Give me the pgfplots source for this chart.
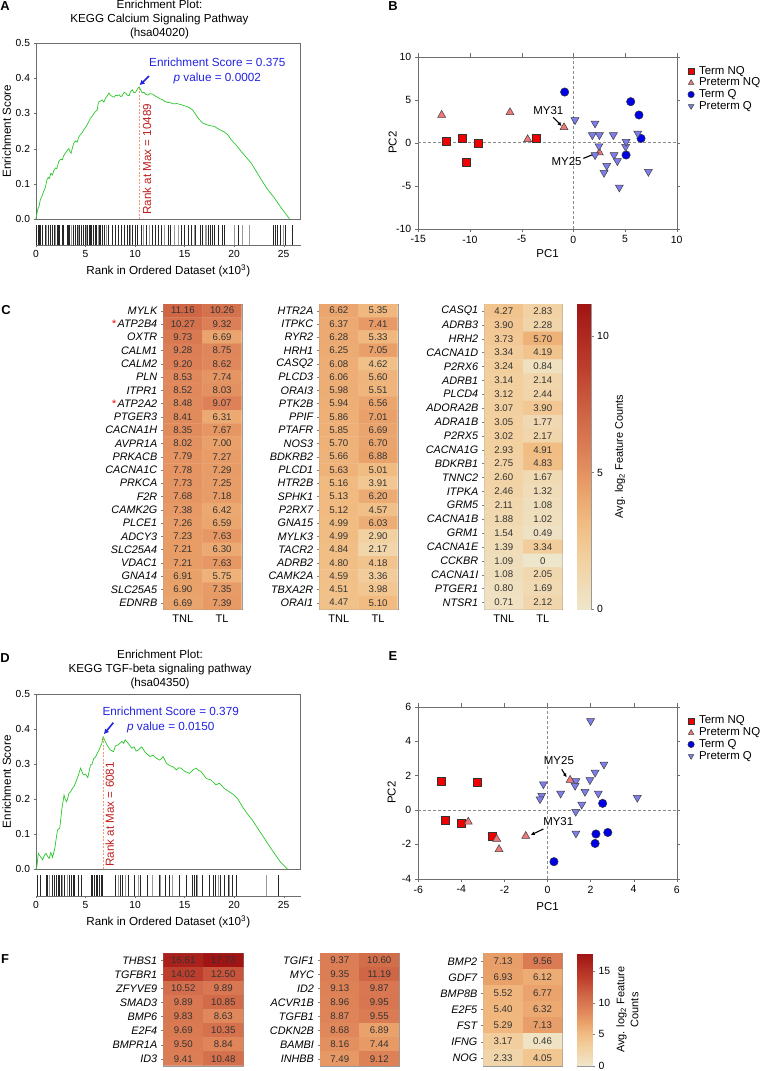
\documentclass[border=0pt]{standalone}
\usepackage{fontspec}
\setmainfont{Liberation Sans}
\usepackage{pgfplots}
\pgfplotsset{compat=1.18}
\usepackage{pgfplotstable}
\usetikzlibrary{arrows.meta}

\newcommand\fs[1]{\fontsize{#1}{#1}\selectfont}

\definecolor{esgreen}{RGB}{40,200,40}
\definecolor{esblue}{RGB}{35,35,225}
\definecolor{rankred}{RGB}{190,30,30}
\definecolor{maxline}{RGB}{245,150,110}
\definecolor{termnq}{RGB}{240,0,0}
\definecolor{pretermnq}{RGB}{240,120,120}
\definecolor{termq}{RGB}{0,0,230}
\definecolor{pretermq}{RGB}{125,125,235}
\definecolor{axgray}{RGB}{110,110,110}

\pgfplotsset{
  /pgf/number format/assume math mode=true,
  colormap={heat}{rgb255(0pt)=(238,230,203) rgb255(30pt)=(242,208,160) rgb255(50pt)=(241,188,130)
    rgb255(70pt)=(233,160,105) rgb255(90pt)=(222,130,88) rgb255(110pt)=(208,105,72)
    rgb255(140pt)=(190,62,45) rgb255(177pt)=(160,20,20)},
  esmain/.style={scale only axis, width=264.5bp, height=#1, xmin=0, xmax=26.7, ymin=0, ymax=0.5,
    xtick=\empty, ytick={0,0.1,0.2,0.3,0.4,0.5}, ytick pos=left, tick align=outside,
    major tick length=2.5bp, axis line style={axgray}, tick style={axgray},
    yticklabel style={font=\fs{10.3}, /pgf/number format/.cd, fixed, fixed zerofill, precision=1},
    ylabel={Enrichment Score}, ylabel style={font=\fs{11.7}, at={(axis description cs:-0.111,0.5)}, anchor=center},
    clip=false},
  bcaxis/.style={scale only axis, width=264.5bp, height=#1, xmin=0, xmax=26.7, ymin=0, ymax=1,
    axis x line*=bottom, axis y line=none, xtick={0,5,10,15,20,25}, tick align=outside,
    major tick length=2bp, axis line style={axgray}, tick style={axgray}, ytick=\empty,
    xticklabel style={font=\fs{10.3}},
    xlabel={Rank in Ordered Dataset (x10\textsuperscript{3})}, xlabel style={font=\fs{11.7}}},
  pca/.style={scale only axis, width=258.4bp, height=172bp, tick align=outside,
    major tick length=3.5bp, axis line style={axgray}, tick style={axgray},
    ticklabel style={font=\fs{10.5}}, label style={font=\fs{11.5}},
    xlabel=PC1, ylabel=PC2, clip=false, legend cell align=left,
    legend style={draw=none, fill=none, font=\fs{11.5}, row sep=0bp,
      nodes={inner sep=0.6bp, text height=8.2bp, text depth=2.3bp}},
    legend image code/.code={\path[draw=none, fill=none] (0cm,0cm) -- (0.4cm,0cm);
      \draw[##1, mark size=3.2bp] plot coordinates {(0.14cm,0cm)};}},
  hm/.style={scale only axis, xmin=-0.5, xmax=1.5, y dir=reverse,
    axis line style={gray!80}, tick align=outside, major tick length=2.5bp,
    ytick style={gray}, xtick style={draw=none}, ytick pos=left,
    xticklabel style={font=\fs{11.1}}, yticklabel style={font=\fs{10.9}\itshape},
    point meta min=0, point meta max=17.73, colormap name=heat},
  hmplot/.style={matrix plot*, mesh/cols=2, point meta=explicit},
  hmtext/.style={only marks, mark=none, point meta=explicit symbolic, nodes near coords,
    nodes near coords style={anchor=center, font=\fs{9.7}, text=black!80, inner sep=0pt}},
  cbar/.style={scale only axis, xmin=0, xmax=1, ymin=0, xtick=\empty, ytick pos=right,
    yticklabel pos=right, tick align=outside, major tick length=3bp,
    axis line style={gray!80}, tick style={gray}, yticklabel style={font=\fs{10.5}},
    colormap name=heat}
}

% ---------- heatmap data, panel C ----------
\pgfplotstableread{
x y v
0 0 11.16
1 0 10.26
0 1 10.27
1 1 9.32
0 2 9.73
1 2 6.69
0 3 9.28
1 3 8.75
0 4 9.20
1 4 8.62
0 5 8.53
1 5 7.74
0 6 8.52
1 6 8.03
0 7 8.48
1 7 9.07
0 8 8.41
1 8 6.31
0 9 8.35
1 9 7.67
0 10 8.02
1 10 7.00
0 11 7.79
1 11 7.27
0 12 7.78
1 12 7.29
0 13 7.73
1 13 7.25
0 14 7.68
1 14 7.18
0 15 7.38
1 15 6.42
0 16 7.26
1 16 6.59
0 17 7.23
1 17 7.63
0 18 7.21
1 18 6.30
0 19 7.21
1 19 7.63
0 20 6.91
1 20 5.75
0 21 6.90
1 21 7.35
0 22 6.69
1 22 7.39
}\hmCa

\pgfplotstableread{
x y v
0 0 6.62
1 0 5.35
0 1 6.37
1 1 7.41
0 2 6.28
1 2 5.33
0 3 6.25
1 3 7.05
0 4 6.08
1 4 4.62
0 5 6.06
1 5 5.60
0 6 5.98
1 6 5.51
0 7 5.94
1 7 6.56
0 8 5.86
1 8 7.01
0 9 5.85
1 9 6.69
0 10 5.70
1 10 6.70
0 11 5.66
1 11 6.88
0 12 5.63
1 12 5.01
0 13 5.16
1 13 3.91
0 14 5.13
1 14 6.20
0 15 5.12
1 15 4.57
0 16 4.99
1 16 6.03
0 17 4.99
1 17 2.90
0 18 4.84
1 18 2.17
0 19 4.80
1 19 4.18
0 20 4.59
1 20 3.36
0 21 4.51
1 21 3.98
0 22 4.47
1 22 5.10
}\hmCb

\pgfplotstableread{
x y v
0 0 4.27
1 0 2.83
0 1 3.90
1 1 2.28
0 2 3.73
1 2 5.70
0 3 3.34
1 3 4.19
0 4 3.24
1 4 0.84
0 5 3.14
1 5 2.14
0 6 3.12
1 6 2.44
0 7 3.07
1 7 3.90
0 8 3.05
1 8 1.77
0 9 3.02
1 9 2.17
0 10 2.93
1 10 4.91
0 11 2.75
1 11 4.83
0 12 2.60
1 12 1.67
0 13 2.46
1 13 1.32
0 14 2.11
1 14 1.08
0 15 1.88
1 15 1.02
0 16 1.54
1 16 0.49
0 17 1.39
1 17 3.34
0 18 1.09
1 18 0
0 19 1.08
1 19 2.05
0 20 0.80
1 20 1.69
0 21 0.71
1 21 2.12
}\hmCc

% ---------- heatmap data, panel F ----------
\pgfplotstableread{
x y v
0 0 16.61
1 0 17.73
0 1 14.02
1 1 12.50
0 2 10.52
1 2 9.89
0 3 9.89
1 3 10.85
0 4 9.83
1 4 8.63
0 5 9.69
1 5 10.35
0 6 9.50
1 6 8.84
0 7 9.41
1 7 10.48
}\hmFa

\pgfplotstableread{
x y v
0 0 9.37
1 0 10.60
0 1 9.35
1 1 11.19
0 2 9.13
1 2 9.87
0 3 8.96
1 3 9.95
0 4 8.87
1 4 9.55
0 5 8.68
1 5 6.89
0 6 8.16
1 6 7.44
0 7 7.49
1 7 9.12
}\hmFb

\pgfplotstableread{
x y v
0 0 7.13
1 0 9.56
0 1 6.93
1 1 6.12
0 2 5.52
1 2 6.77
0 3 5.40
1 3 6.32
0 4 5.29
1 4 7.13
0 5 3.17
1 5 0.46
0 6 2.33
1 6 4.05
}\hmFc

\begin{document}
\begin{tikzpicture}
\useasboundingbox (0,0) rectangle (760bp,-1071bp);

% ================= A =================
\node[font=\bfseries\fs{13}] at (5bp,-6bp) {A};
\node[align=center, font=\fontsize{11.7}{14.2}\selectfont] at (159.5bp,-19.2bp)
  {Enrichment Plot:\\KEGG Calcium Signaling Pathway\\(hsa04020)};
\begin{axis}[esmain=176bp, at={(36bp,-219bp)}, anchor=south west]
\addplot[esgreen, line width=0.7bp, no marks] coordinates {
(0,0) (0.17,0.027) (0.3,0.035) (0.44,0.055) (0.6,0.065) (0.78,0.079) (0.95,0.09) (1.11,0.112)
(1.25,0.118) (1.35,0.115) (1.5,0.13) (1.65,0.125) (1.8,0.138) (1.96,0.145) (2.1,0.143) (2.3,0.164)
(2.5,0.17) (2.65,0.168) (2.8,0.18) (2.97,0.187) (3.15,0.195) (3.31,0.2) (3.45,0.19) (3.55,0.187)
(3.7,0.205) (3.82,0.216) (4.0,0.222) (4.15,0.218) (4.3,0.232) (4.49,0.24) (4.65,0.245) (4.83,0.254)
(5.0,0.26) (5.17,0.268) (5.3,0.275) (5.51,0.287) (5.7,0.293) (5.85,0.3) (6.0,0.305) (6.18,0.31)
(6.3,0.332) (6.5,0.335) (6.7,0.338) (6.85,0.332) (7.03,0.344) (7.2,0.35) (7.36,0.358) (7.5,0.352)
(7.7,0.348) (7.9,0.346) (8.05,0.352) (8.2,0.35) (8.38,0.353) (8.55,0.348) (8.7,0.35) (8.9,0.36)
(9.05,0.358) (9.2,0.352) (9.4,0.35) (9.55,0.362) (9.73,0.367) (9.9,0.358) (10.05,0.36) (10.2,0.368)
(10.41,0.375) (10.6,0.365) (10.74,0.358) (10.9,0.36) (11.1,0.354) (11.3,0.352) (11.5,0.356)
(11.76,0.355) (12.0,0.35) (12.2,0.347) (12.5,0.342) (12.77,0.339) (13.0,0.334) (13.28,0.331)
(13.6,0.33) (13.9,0.327) (14.2,0.328) (14.63,0.325) (14.9,0.322) (15.2,0.32) (15.5,0.316)
(15.81,0.31) (16.1,0.298) (16.4,0.285) (16.82,0.273) (17.2,0.268) (17.6,0.265) (18.0,0.263)
(18.4,0.256) (18.8,0.25) (19.02,0.247) (19.4,0.238) (19.7,0.225) (20.2,0.21) (20.71,0.192)
(21.2,0.176) (21.72,0.159) (22.2,0.137) (22.74,0.112) (23.3,0.087) (24.0,0.062) (24.8,0.03) (25.6,0)
};
\draw[maxline, dashed, dash pattern=on 2bp off 1.5bp, line width=0.7bp] (axis cs:10.41,0) -- (axis cs:10.41,0.375);
\node[rotate=90, text=rankred, font=\fs{11.7}] at (axis cs:11.2,0.17) {Rank at Max = 10489};
\draw[-{Latex[length=5bp,width=5.5bp]}, esblue, line width=1.6bp] (axis cs:11.41,0.406) -- (axis cs:10.45,0.38);
\node[align=center, text=esblue, font=\fontsize{11.8}{15}\selectfont] at (axis cs:18.3,0.42)
  {Enrichment Score = 0.375\\\textit{p} value = 0.0002};
\end{axis}
\begin{axis}[bcaxis=20.5bp, at={(36bp,-245.3bp)}, anchor=south west]
\addplot[ycomb, black!85, line width=0.75bp, no marks] coordinates {
(0.07,1) (0.24,1) (0.35,1) (0.48,1) (0.68,1) (0.92,1) (1.2,1) (1.50,1) (1.70,1) (1.84,1) (2.11,1)
(2.25,1) (2.38,1) (2.62,1) (2.79,1) (3.13,1) (3.25,1) (3.40,1) (3.81,1) (3.98,1) (4.15,1) (4.39,1)
(4.56,1) (4.76,1) (5.0,1) (5.17,1) (5.37,1) (5.5,1) (5.58,1) (5.78,1) (5.95,1) (6.12,1) (6.36,1)
(6.53,1) (6.70,1) (6.94,1) (7.28,1) (7.72,1) (8.06,1) (8.30,1) (8.64,1) (8.91,1) (9.25,1) (9.42,1)
(9.76,1) (10.0,1) (10.2,1) (10.61,1) (11.12,1) (11.70,1) (12.04,1) (12.31,1) (12.65,1) (13.33,1)
(13.61,1) (14.63,1) (14.97,1) (15.37,1) (15.71,1) (16.12,1) (16.56,1) (16.8,1) (17.35,1) (17.59,1)
(17.82,1) (18.03,1) (18.44,1) (18.78,1) (19.05,1) (20.41,1) (23.95,1) (24.15,1) (24.39,1) (24.63,1)
(25.17,1) (25.85,1)
};
\addplot[ycomb, black!40, line width=0.75bp, no marks] coordinates {
(1.0,1) (2.0,1) (3.6,1) (4.3,1) (5.1,1) (6.25,1) (7.1,1) (9.5,1) (10.88,1) (11.46,1) (12.93,1)
(13.95,1) (14.35,1) (16.0,1) (17.07,1) (17.2,1) (20.07,1) (20.88,1) (21.50,1) (24.97,1)
};
\end{axis}

% ================= B =================
\node[font=\bfseries\fs{13}] at (393bp,-6bp) {B};
\begin{axis}[pca, at={(418.3bp,-228.7bp)}, anchor=south west,
  xmin=-15, xmax=10, ymin=-10, ymax=10, xtick={-15,-10,-5,0,5,10}, ytick={-10,-5,0,5,10},
  xlabel style={at={(axis description cs:0.5,-0.147)}, anchor=center},
  ylabel style={at={(axis description cs:-0.099,0.5)}, anchor=center},
  legend style={at={(1.028,0.963)}, anchor=north west}]
\draw[axgray!80, dash pattern=on 3bp off 2bp, line width=0.6bp] (axis cs:0,-10) -- (axis cs:0,10);
\draw[axgray!80, dash pattern=on 3bp off 2bp, line width=0.6bp] (axis cs:-15,0) -- (axis cs:10,0);
\addplot[only marks, mark=square*, mark size=3.9bp, mark options={fill=termnq, draw=black!80, line width=0.6bp}]
  coordinates {(-12.26,0.19) (-10.74,0.5) (-9.19,-0.08) (-10.32,-2.29) (-3.61,0.5)};
\addlegendentry{Term NQ}
\addplot[only marks, mark=triangle*, mark size=4.6bp, mark options={fill=pretermnq, draw=black!75, line width=0.5bp}]
  coordinates {(-12.74,3.22) (-6.13,3.53) (-4.42,0.39) (-0.9,1.78) (2.52,-1.16)};
\addlegendentry{Preterm NQ}
\addplot[only marks, mark=*, mark size=4.2bp, mark options={fill=termq, draw=black!80, line width=0.5bp}]
  coordinates {(-0.84,5.89) (5.55,4.77) (6.35,3.22) (6.55,0.5) (5.1,-1.43)};
\addlegendentry{Term Q}
\addplot[only marks, mark=triangle*, mark size=4.6bp, mark options={rotate=180, fill=pretermq, draw=black!75, line width=0.5bp}]
  coordinates {(0.16,2.64) (2.1,2.25) (1.84,0.89) (2.52,0.89) (3.87,0.89) (2.48,-0.39) (2.1,-1.43)
  (3.94,-1.43) (4.26,-2.13) (3.23,-2.67) (2.97,-3.49) (4.45,-5.19) (5.06,-0.47) (5.1,0.12) (6.23,1.09) (7.26,-3.37)};
\addlegendentry{Preterm Q}
\node[font=\fs{11.5}] at (axis cs:-2.42,3.72) {MY31};
\draw[-{Latex[length=4bp,width=4bp]}, line width=1.1bp] (axis cs:-1.94,2.95) -- (axis cs:-1.13,1.94);
\node[font=\fs{11.5}] at (axis cs:-0.65,-2.21) {MY25};
\draw[-{Latex[length=4bp,width=4bp]}, line width=1.1bp] (axis cs:0.97,-1.82) -- (axis cs:2.19,-1.24);
\end{axis}

% ================= C =================
\node[font=\bfseries\fs{13}] at (6bp,-310.5bp) {C};
\begin{axis}[hm, at={(163.3bp,-609.3bp)}, anchor=south west, width=78.4bp, height=305.3bp,
  ymin=-0.5, ymax=22.5, xtick={0,1}, xticklabels={TNL,TL}, ytick={0,...,22},
  yticklabels={MYLK,{\textcolor{red}{*}\,ATP2B4},OXTR,CALM1,CALM2,PLN,ITPR1,{\textcolor{red}{*}\,ATP2A2},
    PTGER3,CACNA1H,AVPR1A,PRKACB,CACNA1C,PRKCA,F2R,CAMK2G,PLCE1,ADCY3,SLC25A4,VDAC1,GNA14,SLC25A5,EDNRB}]
\addplot[hmplot] table[x=x, y=y, meta=v] {\hmCa};
\addplot[hmtext] table[x=x, y=y, meta=v] {\hmCa};
\end{axis}
\begin{axis}[hm, at={(319.3bp,-609.3bp)}, anchor=south west, width=78.4bp, height=305.3bp,
  ymin=-0.5, ymax=22.5, xtick={0,1}, xticklabels={TNL,TL}, ytick={0,...,22},
  yticklabels={HTR2A,ITPKC,RYR2,HRH1,CASQ2,PLCD3,ORAI3,PTK2B,PPIF,PTAFR,NOS3,BDKRB2,PLCD1,HTR2B,
    SPHK1,P2RX7,GNA15,MYLK3,TACR2,ADRB2,CAMK2A,TBXA2R,ORAI1}]
\addplot[hmplot] table[x=x, y=y, meta=v] {\hmCb};
\addplot[hmtext] table[x=x, y=y, meta=v] {\hmCb};
\end{axis}
\begin{axis}[hm, at={(484.3bp,-609.3bp)}, anchor=south west, width=78bp, height=305.3bp,
  ymin=-0.5, ymax=21.5, xtick={0,1}, xticklabels={TNL,TL}, ytick={0,...,21},
  yticklabels={CASQ1,ADRB3,HRH2,CACNA1D,P2RX6,ADRB1,PLCD4,ADORA2B,ADRA1B,P2RX5,CACNA1G,BDKRB1,
    TNNC2,ITPKA,GRM5,CACNA1B,GRM1,CACNA1E,CCKBR,CACNA1I,PTGER1,NTSR1}]
\addplot[hmplot] table[x=x, y=y, meta=v] {\hmCc};
\addplot[hmtext] table[x=x, y=y, meta=v] {\hmCc};
\end{axis}
\begin{axis}[cbar, at={(576.7bp,-609.3bp)}, anchor=south west, width=14bp, height=305.3bp,
  ymax=11.16, ytick={0,5,10}, point meta min=0, point meta max=11.16,
  ylabel={Avg. log\textsubscript{2} Feature Counts},
  ylabel style={font=\fs{11}, at={(axis description cs:3.1,0.5)}, anchor=center}]
\addplot[surf, shader=interp, mesh/cols=2, point meta=explicit] table[meta=c] {
x y c
0 0 0
1 0 0
0 2 2
1 2 2
0 4 4
1 4 4
0 6 6
1 6 6
0 8 8
1 8 8
0 10 10
1 10 10
0 11.16 11.16
1 11.16 11.16
};
\end{axis}

% ================= D =================
\node[font=\bfseries\fs{13}] at (5bp,-658bp) {D};
\node[align=center, font=\fontsize{11.7}{14.2}\selectfont] at (160bp,-669.3bp)
  {Enrichment Plot:\\KEGG TGF-beta signaling pathway\\(hsa04350)};
\begin{axis}[esmain=175bp, at={(36bp,-869.3bp)}, anchor=south west]
\addplot[esgreen, line width=0.7bp, no marks] coordinates {
(0,0) (0.1,0.01) (0.23,0.046) (0.45,0.036) (0.67,0.027) (0.85,0.04) (1.0,0.046) (1.15,0.038)
(1.33,0.031) (1.5,0.048) (1.67,0.034) (1.9,0.06) (2.05,0.09) (2.17,0.112) (2.4,0.118) (2.6,0.17)
(2.83,0.212) (2.95,0.2) (3.1,0.193) (3.33,0.217) (3.5,0.222) (3.67,0.231) (3.9,0.24) (4.05,0.252)
(4.23,0.265) (4.5,0.289) (4.77,0.27) (5.0,0.272) (5.23,0.262) (5.5,0.298) (5.65,0.3) (5.83,0.317)
(6.0,0.32) (6.17,0.331) (6.35,0.34) (6.5,0.35) (6.65,0.36) (6.77,0.379) (7.0,0.365) (7.17,0.355)
(7.5,0.341) (7.83,0.336) (8.0,0.352) (8.3,0.356) (8.67,0.365) (8.85,0.36) (9.0,0.37) (9.3,0.36)
(9.67,0.346) (9.9,0.35) (10.1,0.338) (10.33,0.341) (10.67,0.35) (11.0,0.335) (11.5,0.322)
(11.8,0.326) (12.17,0.317) (12.5,0.312) (12.83,0.322) (13.17,0.303) (13.5,0.296) (13.83,0.293)
(14.17,0.284) (14.4,0.29) (14.67,0.289) (15.0,0.28) (15.5,0.274) (15.83,0.284) (16.17,0.289)
(16.4,0.283) (16.67,0.279) (17.17,0.26) (17.67,0.255) (18.17,0.241) (18.5,0.246) (18.8,0.238)
(19.0,0.231) (19.5,0.222) (20.0,0.212) (20.4,0.2) (20.83,0.179) (21.3,0.16) (21.83,0.141)
(22.5,0.112) (23.2,0.082) (23.9,0.052) (24.7,0.02) (25.4,0)
};
\draw[maxline, dashed, dash pattern=on 2bp off 1.5bp, line width=0.7bp] (axis cs:6.77,0) -- (axis cs:6.77,0.379);
\node[rotate=90, text=rankred, font=\fs{11.7}] at (axis cs:7.45,0.157) {Rank at Max = 6081};
\draw[-{Latex[length=5bp,width=5.5bp]}, esblue, line width=1.6bp] (axis cs:7.81,0.419) -- (axis cs:6.85,0.386);
\node[align=center, text=esblue, font=\fontsize{11.8}{15}\selectfont] at (axis cs:13.6,0.427)
  {Enrichment Score = 0.379\\\textit{p} value = 0.0150};
\end{axis}
\begin{axis}[bcaxis=21bp, at={(36bp,-896.3bp)}, anchor=south west]
\addplot[ycomb, black!85, line width=0.75bp, no marks] coordinates {
(0.10,1) (0.44,1) (1.02,1) (1.19,1) (1.70,1) (1.87,1) (2.04,1) (2.21,1) (2.38,1) (2.55,1) (2.82,1)
(3.40,1) (3.57,1) (3.74,1) (3.91,1) (4.25,1) (4.59,1) (5.54,1) (5.71,1) (5.88,1) (6.05,1) (6.22,1)
(6.39,1) (6.56,1) (6.73,1) (8.0,1) (8.5,1) (8.74,1) (9.35,1) (9.97,1) (10.54,1) (11.22,1) (12.41,1)
(13.1,1) (13.44,1) (14.46,1) (15.14,1) (15.75,1) (15.99,1) (16.16,1) (16.84,1) (17.52,1) (17.86,1)
(18.13,1) (18.61,1) (19.05,1) (19.39,1) (19.83,1) (20.24,1) (24.49,1)
};
\addplot[ycomb, black!40, line width=0.75bp, no marks] coordinates {
(1.3,1) (2.7,1) (3.2,1) (8.27,1) (9.01,1) (10.31,1) (11.73,1) (12.59,1) (13.78,1) (16.33,1)
(18.37,1) (19.56,1) (23.23,1)
};
\end{axis}

% ================= E =================
\node[font=\bfseries\fs{13}] at (393bp,-656.3bp) {E};
\begin{axis}[pca, at={(418.3bp,-878.7bp)}, anchor=south west,
  xmin=-6, xmax=6, ymin=-4, ymax=6, xtick={-6,-4,...,6}, ytick={-4,-2,...,6},
  xlabel style={at={(axis description cs:0.5,-0.159)}, anchor=center},
  ylabel style={at={(axis description cs:-0.103,0.5)}, anchor=center},
  legend style={at={(1.028,0.9635)}, anchor=north west}]
\draw[axgray!80, dash pattern=on 3bp off 2bp, line width=0.6bp] (axis cs:0,-4) -- (axis cs:0,6);
\draw[axgray!80, dash pattern=on 3bp off 2bp, line width=0.6bp] (axis cs:-6,0) -- (axis cs:6,0);
\addplot[only marks, mark=square*, mark size=3.9bp, mark options={fill=termnq, draw=black!80, line width=0.6bp}]
  coordinates {(-4.95,1.68) (-3.27,1.62) (-4.73,-0.59) (-3.99,-0.78) (-2.55,-1.52)};
\addlegendentry{Term NQ}
\addplot[only marks, mark=triangle*, mark size=4.6bp, mark options={fill=pretermnq, draw=black!75, line width=0.5bp}]
  coordinates {(-3.68,-0.69) (-2.36,-1.69) (-2.25,-2.29) (-1.01,-1.52) (1.05,1.74)};
\addlegendentry{Preterm NQ}
\addplot[only marks, mark=*, mark size=4.2bp, mark options={fill=termq, draw=black!80, line width=0.5bp}]
  coordinates {(2.56,0.38) (2.25,-1.4) (2.8,-1.31) (2.21,-1.95) (0.30,-3.01)};
\addlegendentry{Term Q}
\addplot[only marks, mark=triangle*, mark size=4.6bp, mark options={rotate=180, fill=pretermq, draw=black!75, line width=0.5bp}]
  coordinates {(2.0,5.17) (2.62,2.65) (2.21,2.18) (1.97,1.74) (1.32,1.68) (1.28,1.41) (-0.19,1.5)
  (-0.27,0.83) (-0.35,0.63) (0.61,0.96) (1.74,1.06) (2.36,0.96) (1.59,0.32) (1.31,-0.1) (1.32,-1.36) (4.17,0.71)};
\addlegendentry{Preterm Q}
\node[font=\fs{11.5}] at (axis cs:0.53,2.86) {MY25};
\draw[-{Latex[length=4bp,width=4bp]}, line width=1.1bp] (axis cs:0.66,2.36) -- (axis cs:0.89,1.89);
\node[font=\fs{11.5}] at (axis cs:0.5,-0.67) {MY31};
\draw[-{Latex[length=4bp,width=4bp]}, line width=1.1bp] (axis cs:-0.19,-1.11) -- (axis cs:-0.78,-1.46);
\end{axis}

% ================= F =================
\node[font=\bfseries\fs{13}] at (5bp,-959.3bp) {F};
\begin{axis}[hm, at={(163.3bp,-1065.7bp)}, anchor=south west, width=80bp, height=112.4bp,
  ymin=-0.5, ymax=7.5, xtick=\empty, ytick={0,...,7},
  yticklabels={THBS1,TGFBR1,ZFYVE9,SMAD3,BMP6,E2F4,BMPR1A,ID3}]
\addplot[hmplot] table[x=x, y=y, meta=v] {\hmFa};
\addplot[hmtext] table[x=x, y=y, meta=v] {\hmFa};
\end{axis}
\begin{axis}[hm, at={(320bp,-1065.7bp)}, anchor=south west, width=79bp, height=112.4bp,
  ymin=-0.5, ymax=7.5, xtick=\empty, ytick={0,...,7},
  yticklabels={TGIF1,MYC,ID2,ACVR1B,TGFB1,CDKN2B,BAMBI,INHBB}]
\addplot[hmplot] table[x=x, y=y, meta=v] {\hmFb};
\addplot[hmtext] table[x=x, y=y, meta=v] {\hmFb};
\end{axis}
\begin{axis}[hm, at={(483.3bp,-1065.7bp)}, anchor=south west, width=79bp, height=112.4bp,
  ymin=-0.5, ymax=6.5, xtick=\empty, ytick={0,...,6},
  yticklabels={BMP2,GDF7,BMP8B,E2F5,FST,IFNG,NOG}]
\addplot[hmplot] table[x=x, y=y, meta=v] {\hmFc};
\addplot[hmtext] table[x=x, y=y, meta=v] {\hmFc};
\end{axis}
\begin{axis}[cbar, at={(577.3bp,-1065.7bp)}, anchor=south west, width=14.7bp, height=111.7bp,
  ymax=17.73, ytick={0,5,10,15}, point meta min=0, point meta max=17.73,
  ylabel={Avg. log\textsubscript{2} Feature\\Counts},
  ylabel style={font=\fontsize{11}{14}\selectfont, align=center, at={(axis description cs:3.41,0.5)}, anchor=center}]
\addplot[surf, shader=interp, mesh/cols=2, point meta=explicit] table[meta=c] {
x y c
0 0 0
1 0 0
0 3 3
1 3 3
0 5 5
1 5 5
0 7 7
1 7 7
0 9 9
1 9 9
0 11 11
1 11 11
0 14 14
1 14 14
0 17.73 17.73
1 17.73 17.73
};
\end{axis}
\end{tikzpicture}
\end{document}
